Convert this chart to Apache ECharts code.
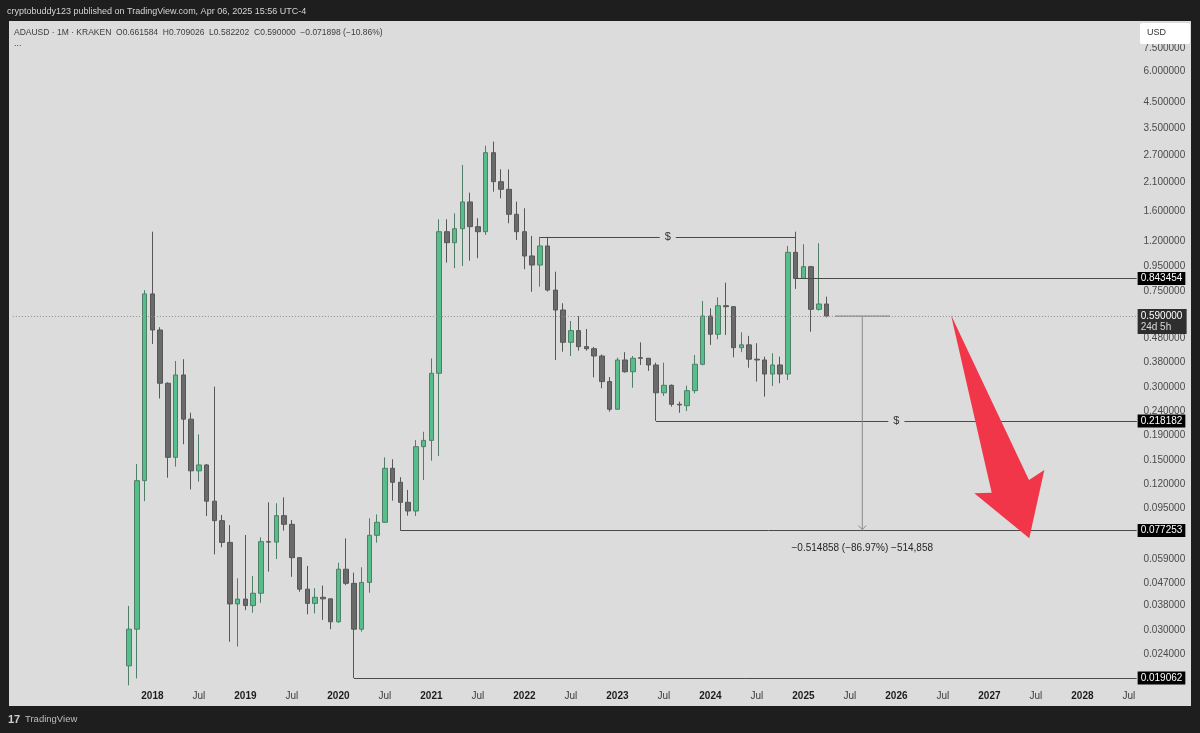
<!DOCTYPE html>
<html><head><meta charset="utf-8">
<script src="https://cdn.jsdelivr.net/npm/echarts@6/dist/echarts.min.js"></script>
<style>html,body{margin:0;padding:0;background:#1e1e1e;}#c{width:1200px;height:733px;}</style>
</head><body><div id="c"></div>
<script>
// ---- axis categories: monthly, from Jul 2016 (146 months) ----
const axisStartYear = 2016, axisStartMonth = 7, axisMonthCount = 146;
// ---- monthly candles, first candle Oct 2017, last Apr 2025 ----
const firstCandle = '2017-10';
const openP = [0.0214,0.0303,0.1239,0.728,0.517,0.312,0.1546,0.3376,0.222,0.136,0.1438,0.102,0.0848,0.069,0.0385,0.0403,0.0379,0.0426,0.0695,0.0692,0.0889,0.0819,0.0597,0.0443,0.0387,0.0410,0.0404,0.0325,0.0535,0.0468,0.0303,0.0472,0.0738,0.0835,0.1393,0.122,0.1009,0.0929,0.171,0.1815,0.343,1.313,1.183,1.351,1.741,1.377,1.313,2.778,2.11,1.963,1.549,1.313,1.043,0.957,1.147,0.755,0.625,0.460,0.514,0.4415,0.433,0.404,0.317,0.2438,0.389,0.348,0.3975,0.3955,0.371,0.285,0.306,0.2556,0.2522,0.2908,0.3735,0.59,0.4966,0.651,0.645,0.4373,0.449,0.392,0.389,0.3405,0.371,0.3405,1.08,0.843454,0.9426,0.629,0.661584];
const highP = [0.0378,0.145,0.755,1.313,0.531,0.315,0.3855,0.392,0.236,0.192,0.145,0.302,0.0895,0.0813,0.0491,0.074,0.0502,0.0724,0.1009,0.100,0.1058,0.0853,0.0600,0.0552,0.0447,0.0458,0.0405,0.0569,0.0717,0.0518,0.0545,0.0867,0.090,0.1546,0.1517,0.128,0.1135,0.182,0.197,0.395,1.477,1.477,1.564,2.472,1.901,1.492,2.97,3.085,2.373,2.37,1.746,1.64,1.262,1.25,1.25,0.899,0.666,0.563,0.590,0.522,0.44,0.41,0.331,0.3977,0.419,0.404,0.46,0.3955,0.379,0.379,0.3085,0.262,0.305,0.408,0.681,0.635,0.705,0.81,0.646,0.506,0.489,0.456,0.4015,0.4146,0.4015,1.147,1.313,1.166,0.95,1.177,0.709026];
const lowP = [0.0178,0.0190,0.102,0.453,0.270,0.1274,0.1415,0.175,0.114,0.1227,0.0886,0.0616,0.0659,0.0269,0.0257,0.0363,0.0354,0.0389,0.0523,0.0589,0.0771,0.0498,0.0432,0.0349,0.0352,0.0331,0.0303,0.0322,0.046,0.019062,0.0296,0.0428,0.0688,0.0830,0.1025,0.077253,0.0889,0.0886,0.1247,0.1497,0.1566,0.979,0.929,0.949,0.998,1.021,1.273,1.92,1.803,1.422,1.214,0.920,0.743,0.780,0.745,0.389,0.421,0.404,0.425,0.425,0.330,0.2975,0.2383,0.2430,0.345,0.299,0.371,0.351,0.218182,0.2766,0.250,0.236,0.2398,0.2837,0.37,0.449,0.4733,0.493,0.399,0.419,0.3616,0.317,0.2748,0.304,0.312,0.322,0.763,0.84,0.5086,0.621,0.582202];
const closeP = [0.0303,0.1239,0.728,0.517,0.312,0.1546,0.3376,0.222,0.136,0.1438,0.102,0.0848,0.069,0.0385,0.0403,0.0379,0.0426,0.0695,0.0692,0.0889,0.0819,0.0597,0.0443,0.0387,0.0410,0.0404,0.0325,0.0535,0.0468,0.0303,0.0472,0.0738,0.0835,0.1393,0.122,0.1009,0.0929,0.171,0.1815,0.343,1.313,1.183,1.351,1.741,1.377,1.313,2.778,2.11,1.963,1.549,1.313,1.043,0.957,1.147,0.755,0.625,0.460,0.514,0.4415,0.433,0.404,0.317,0.2438,0.389,0.348,0.3955,0.3955,0.371,0.285,0.306,0.2556,0.2540,0.2908,0.3735,0.59,0.4966,0.651,0.645,0.4373,0.449,0.392,0.389,0.3405,0.371,0.3405,1.08,0.843454,0.9426,0.629,0.661584,0.59];
// ---- price scale labels ----
const priceTicks = [7.5,6.0,4.5,3.5,2.7,2.1,1.6,1.2,0.95,0.75,0.48,0.38,0.30,0.24,0.19,0.15,0.12,0.095,0.059,0.047,0.038,0.030,0.024];
const priceMin = 0.01768, priceMax = 9.59;
// ---- horizontal levels drawn on the chart ----
const levelStart = ['2022-03','2024-12','2023-06','2020-09','2020-03'];
const levelEnd = ['2024-12',null,null,null,null];
const levelPrice = [1.25,0.843454,0.218182,0.077253,0.019062];
const levelDollar = [true,false,true,false,false];
const levelBox = [false,true,true,true,true];
const lastPrice = 0.59, countdown = '24d 5h';
// ---- measure tool and arrow (x = axis month index, fractional; y = price) ----
const measureFrom = [106.08, 0.59], measureTo = [113.18, 0.59], measureX = 109.6, measureTarget = 0.077253;
const measureText = '\u22120.514858 (\u221286.97%) \u2212514,858', measureTextPrice = 0.0655;
const arrowPts = [[121.05,0.596],[131.11,0.1247],[133.09,0.1371],[131.15,0.0717],[124.05,0.110],[126.30,0.1105]];

const pad = n => (n < 10 ? '0' : '') + n;
const categories = [];
for (let i = 0; i < axisMonthCount; i++) {
  const m = axisStartMonth - 1 + i;
  categories.push((axisStartYear + Math.floor(m / 12)) + '-' + pad(m % 12 + 1));
}
const startIdx = categories.indexOf(firstCandle);
const candleData = openP.map((o, i) => [startIdx + i, o, closeP[i], lowP[i], highP[i]]);
const lastCat = categories[categories.length - 1];
const FONT = 'Liberation Sans';

const markData = [];
levelPrice.forEach((p, i) => {
  const ls = {color: '#4a4a4a', width: 1, type: 'solid'};
  const endCat = levelEnd[i] || lastCat;
  if (levelDollar[i]) {
    markData.push([{coord: [levelStart[i], p], lineStyle: ls,
      label: {show: true, position: 'middle', formatter: '$', distance: 0, verticalAlign: 'middle', align: 'center',
        color: '#333', fontSize: 11, fontFamily: FONT, backgroundColor: '#dcdcdc', padding: [0, 5]}},
      {coord: [endCat, p]}]);
  }
  if (levelBox[i]) {
    markData.push([{coord: [levelStart[i], p], lineStyle: ls,
      label: {show: true, position: 'end', formatter: p.toFixed(6), distance: 1,
        color: '#fff', fontSize: 10, fontFamily: FONT, backgroundColor: '#000', padding: [2, 3, 1, 3]}},
      {coord: [endCat, p]}]);
  }
});
markData.push([{coord: [categories[0], lastPrice], lineStyle: {color: '#8e8e8e', width: 1, type: [1, 2]}, label: {show: false}},
  {coord: [lastCat, lastPrice]}]);

const chart = echarts.init(document.getElementById('c'), null, {renderer: 'canvas'});
chart.setOption({
  backgroundColor: '#dcdcdc',
  animation: false,
  grid: {left: 9, top: 22, width: 1131.5, height: 664, containLabel: false, outerBoundsMode: 'none'},
  xAxis: {
    type: 'category', data: categories, boundaryGap: true,
    axisLine: {show: false}, axisTick: {show: false}, splitLine: {show: false},
    axisLabel: {
      margin: 5,
      interval: (i, v) => i >= 18 && (v.slice(5) === '01' || v.slice(5) === '07'),
      formatter: v => v.slice(5) === '01' ? '{y|' + v.slice(0, 4) + '}' : '{m|Jul}',
      rich: {y: {fontWeight: 'bold', color: '#1c1c1c', fontSize: 10, fontFamily: FONT},
             m: {color: '#3a3a3a', fontSize: 10, fontFamily: FONT}}
    }
  },
  yAxis: {
    type: 'log', logBase: 10, position: 'right', min: priceMin, max: priceMax,
    axisLine: {show: false}, axisTick: {show: false}, splitLine: {show: false},
    axisLabel: {customValues: priceTicks, formatter: v => (+v).toFixed(6), color: '#4a4a4a',
      fontSize: 10, fontFamily: FONT, margin: 3, align: 'left', hideOverlap: false}
  },
  series: [{
    type: 'candlestick', data: candleData, encode: {x: 0, y: [1, 2, 3, 4]},
    barWidth: 5, clip: false, silent: true,
    itemStyle: {color: '#56bd8b', color0: '#6a6a6a', borderColor: '#4f7f66', borderColor0: '#575757',
      borderColorDoji: '#575757', borderWidth: 1},
    markLine: {symbol: ['none', 'none'], silent: true, animation: false, data: markData}
  }, {
    type: 'custom', data: [[0, 1]], encode: {x: 0, y: 1}, silent: true, clip: false, z: 5,
    renderItem: function (params, api) {
      const c0 = api.coord([0, 1]), c1 = api.coord([1, 1]);
      const bw = c1[0] - c0[0];
      const X = f => c0[0] + f * bw;
      const Y = p => api.coord([0, p])[1];
      const yM = Y(measureFrom[1]), yT = Y(measureTarget), xm = X(measureX);
      const xEnd = X(categories.length - 1);
      const yL = Y(lastPrice);
      return {type: 'group', children: [
        {type: 'polygon', shape: {points: arrowPts.map(p => [X(p[0]), Y(p[1])])}, style: {fill: '#f2364a'}},
        {type: 'line', shape: {x1: X(measureFrom[0]), y1: yM, x2: X(measureTo[0]), y2: yM}, style: {stroke: '#7a7a7a', lineWidth: 1}},
        {type: 'line', shape: {x1: xm, y1: yM, x2: xm, y2: yT}, style: {stroke: '#8a8a8a', lineWidth: 1}},
        {type: 'polyline', shape: {points: [[xm - 4, yT - 5], [xm, yT - 1], [xm + 4, yT - 5]]}, style: {stroke: '#8a8a8a', lineWidth: 1, fill: null}},
        {type: 'text', style: {text: measureText, x: xm, y: Y(measureTextPrice), align: 'center', verticalAlign: 'middle',
          fill: '#262626', fontSize: 10, fontFamily: FONT}},
        {type: 'rect', shape: {x: xEnd + 1, y: yL - 7, width: 49, height: 25}, style: {fill: '#2e2e2e'}},
        {type: 'text', style: {text: lastPrice.toFixed(6), x: xEnd + 4, y: yL, align: 'left', verticalAlign: 'middle',
          fill: '#ffffff', fontSize: 10, fontFamily: FONT}},
        {type: 'text', style: {text: countdown, x: xEnd + 4, y: yL + 11, align: 'left', verticalAlign: 'middle',
          fill: '#d8d8d8', fontSize: 10, fontFamily: FONT}}
      ]};
    }
  }],
  graphic: [
    {type: 'rect', z: 100, shape: {x: 0, y: 0, width: 1200, height: 21}, style: {fill: '#1e1e1e'}},
    {type: 'rect', z: 100, shape: {x: 0, y: 0, width: 9, height: 733}, style: {fill: '#1e1e1e'}},
    {type: 'rect', z: 100, shape: {x: 1191, y: 0, width: 9, height: 733}, style: {fill: '#1e1e1e'}},
    {type: 'rect', z: 100, shape: {x: 0, y: 706, width: 1200, height: 27}, style: {fill: '#1e1e1e'}},
    {type: 'text', z: 101, style: {text: 'cryptobuddy123 published on TradingView.com, Apr 06, 2025 15:56 UTC-4',
      x: 7, y: 12, verticalAlign: 'middle', fill: '#d4d4d4', fontSize: 9, fontFamily: FONT}},
    {type: 'text', z: 101, style: {text: 'ADAUSD \u00b7 1M \u00b7 KRAKEN  O0.661584  H0.709026  L0.582202  C0.590000  \u22120.071898 (\u221210.86%)',
      x: 14, y: 33, verticalAlign: 'middle', fill: '#3c3c3c', fontSize: 8.5, fontFamily: FONT}},
    {type: 'text', z: 101, style: {text: '...', x: 14, y: 44, verticalAlign: 'middle', fill: '#3c3c3c', fontSize: 9, fontFamily: FONT}},
    {type: 'rect', z: 101, shape: {x: 1140, y: 23, width: 50, height: 21, r: 2}, style: {fill: '#ffffff'}},
    {type: 'text', z: 102, style: {text: 'USD', x: 1147, y: 33, verticalAlign: 'middle', fill: '#333', fontSize: 9, fontFamily: FONT}},
    {type: 'text', z: 101, style: {text: '17', x: 8, y: 719.5, verticalAlign: 'middle', fill: '#cfcfcf', fontSize: 11, fontWeight: 'bold', fontFamily: FONT}},
    {type: 'text', z: 101, style: {text: 'TradingView', x: 25, y: 719.5, verticalAlign: 'middle', fill: '#bdbdbd', fontSize: 9.5, fontFamily: FONT}}
  ]
});
</script></body></html>
